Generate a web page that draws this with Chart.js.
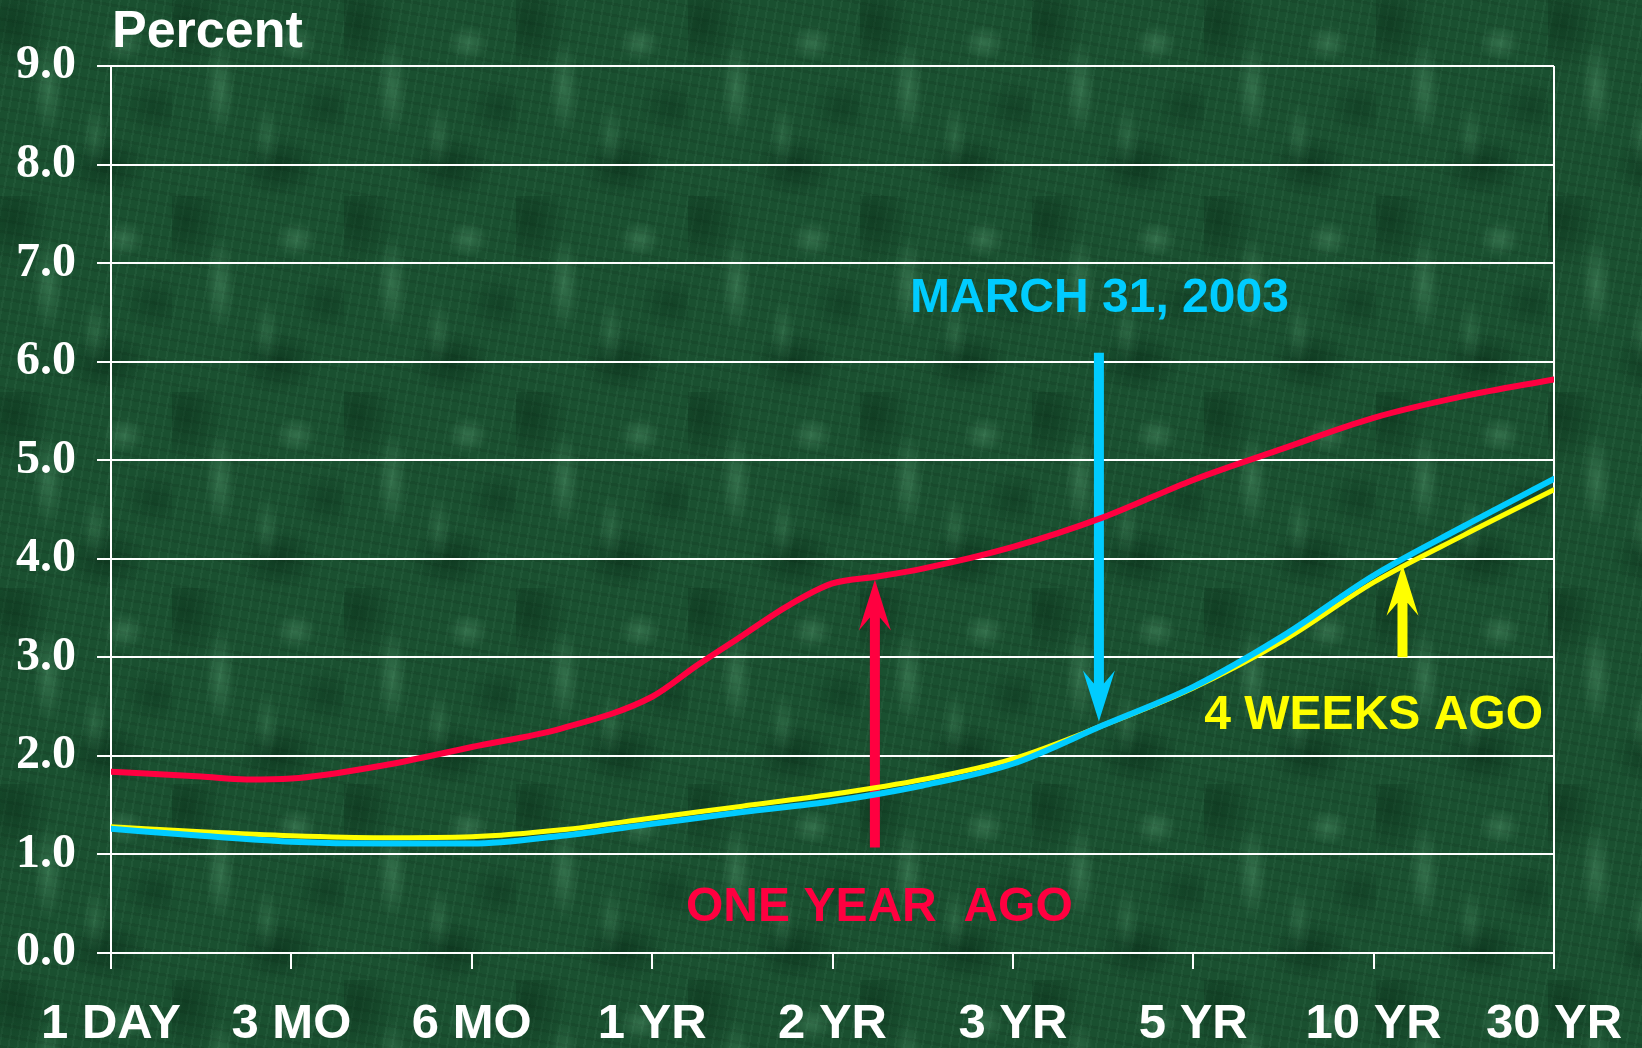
<!DOCTYPE html>
<html><head><meta charset="utf-8">
<script src="https://cdn.jsdelivr.net/npm/chart.js@4.4.1/dist/chart.umd.min.js"></script>
<style>
html,body{margin:0;padding:0;width:1642px;height:1048px;overflow:hidden}
body{
 background-color:#1a5030;
 background-image:
  radial-gradient(ellipse 22px 70px at 28% 45%, rgba(130,210,160,0.24), rgba(130,210,160,0) 70%),
  radial-gradient(ellipse 30px 26px at 72% 22%, rgba(140,220,170,0.22), rgba(140,220,170,0) 70%),
  radial-gradient(ellipse 18px 50px at 55% 70%, rgba(120,200,150,0.18), rgba(120,200,150,0) 70%),
  radial-gradient(ellipse 60px 45px at 62% 85%, rgba(4,36,18,0.5), rgba(4,36,18,0) 70%),
  radial-gradient(ellipse 55px 70px at 8% 12%, rgba(6,40,20,0.45), rgba(6,40,20,0) 70%),
  radial-gradient(ellipse 45px 40px at 90% 55%, rgba(8,45,24,0.4), rgba(8,45,24,0) 70%),
  repeating-linear-gradient(100deg, rgba(160,230,190,0.05) 0 2px, rgba(0,0,0,0) 2px 9px),
  repeating-linear-gradient(10deg, rgba(0,0,0,0.08) 0 3px, rgba(0,0,0,0) 3px 11px);
 background-size:172px 196px,172px 196px,172px 196px,172px 196px,172px 196px,172px 196px,auto,auto;
}
canvas{display:block}
</style></head>
<body>
<canvas id="c" width="1642" height="1048"></canvas>
<script>
// ---- data ----
const categories = ['1 DAY','3 MO','6 MO','1 YR','2 YR','3 YR','5 YR','10 YR','30 YR'];

const oneYearAgoPos = [0,0.5,0.75,1,1.5,2,2.5,3,3.25,3.5,3.75,4,4.25,4.5,5,5.5,6,6.5,7,7.5,8];
const oneYearAgoVal = [1.84,1.79,1.76,1.77,1.90,2.09,2.28,2.60,2.92,3.22,3.52,3.75,3.82,3.90,4.12,4.42,4.80,5.12,5.43,5.65,5.82];

const march31Pos = [0,0.5,1,1.5,2,2.5,3,3.5,4,4.5,5,5.5,6,6.5,7,7.5,8];
const march31Val = [1.26,1.19,1.13,1.11,1.11,1.19,1.31,1.43,1.54,1.70,1.92,2.31,2.70,3.22,3.83,4.33,4.81];

const fourWeeksPos = [0,0.5,1,1.5,2,2.5,3,3.5,4,4.5,5,5.5,6,6.5,7,7.5,8];
const fourWeeksVal = [1.28,1.23,1.19,1.17,1.18,1.25,1.37,1.49,1.61,1.76,1.97,2.31,2.69,3.17,3.76,4.24,4.70];

// annotation arrows: [x position (category units), tail value, tip value]
const arrowRed    = [4.235, 1.07, 3.79];
const arrowCyan   = [5.477, 6.09, 2.35];
const arrowYellow = [7.16, 3.00, 3.94];

// annotation labels: [text, x position, baseline value]
const labelRed    = ['ONE YEAR  AGO', 4.26, 0.32];
const labelCyan   = ['MARCH 31, 2003', 5.48, 6.50];
const labelYellow = ['4 WEEKS AGO', 7.0, 2.27];

const yAxisTitle = 'Percent';

const RED = '#FF0040', CYAN = '#00CCFF', YELLOW = '#FFFF00';
const SANS = '"Liberation Sans", Arial, sans-serif';
const SERIF = '"Liberation Serif", "Times New Roman", serif';

const pts = (p, v) => p.map((x, i) => ({x, y: v[i]}));

function drawArrow(ctx, x, yTail, yTip, color){
  const dir = yTip < yTail ? -1 : 1;
  const L = 51, N = 38, W = 16, S = 5;
  ctx.save();
  ctx.fillStyle = color;
  ctx.beginPath();
  ctx.moveTo(x - S, yTail);
  ctx.lineTo(x - S, yTip - dir * N);
  ctx.lineTo(x - W, yTip - dir * L);
  ctx.lineTo(x, yTip);
  ctx.lineTo(x + W, yTip - dir * L);
  ctx.lineTo(x + S, yTip - dir * N);
  ctx.lineTo(x + S, yTail);
  ctx.closePath();
  ctx.fill();
  ctx.restore();
}

const annotations = {
  id: 'annotations',
  beforeDatasetsDraw(chart){
    const {ctx, scales:{x, y}} = chart;
    [[arrowRed, RED], [arrowCyan, CYAN], [arrowYellow, YELLOW]].forEach(([a, c]) => {
      drawArrow(ctx, x.getPixelForValue(a[0]), y.getPixelForValue(a[1]), y.getPixelForValue(a[2]), c);
    });
  },
  afterDraw(chart){
    const {ctx, chartArea, scales:{x, y}} = chart;
    ctx.save();
    ctx.font = 'bold 48px ' + SANS;
    ctx.textAlign = 'center';
    ctx.textBaseline = 'alphabetic';
    [[labelRed, RED], [labelCyan, CYAN], [labelYellow, YELLOW]].forEach(([l, c]) => {
      ctx.fillStyle = c;
      ctx.fillText(l[0], x.getPixelForValue(l[1]), y.getPixelForValue(l[2]));
    });
    ctx.font = 'bold 52px ' + SANS;
    ctx.textAlign = 'left';
    ctx.fillStyle = '#FFFFFF';
    ctx.fillText(yAxisTitle, chartArea.left + 1, chartArea.top - 19);
    ctx.restore();
  }
};

new Chart(document.getElementById('c'), {
  type: 'line',
  data: {
    datasets: [
      {label: 'One year ago', data: pts(oneYearAgoPos, oneYearAgoVal), borderColor: RED, borderWidth: 6, order: 1},
      {label: 'March 31, 2003', data: pts(march31Pos, march31Val), borderColor: CYAN, borderWidth: 6, order: 2},
      {label: '4 weeks ago', data: pts(fourWeeksPos, fourWeeksVal), borderColor: YELLOW, borderWidth: 5, order: 3}
    ]
  },
  options: {
    responsive: false,
    animation: false,
    devicePixelRatio: 1,
    layout: {padding: {top: 66, right: 88, left: 0, bottom: 0}},
    elements: {
      point: {radius: 0},
      line: {cubicInterpolationMode: 'monotone', fill: false, borderCapStyle: 'round', borderJoinStyle: 'round'}
    },
    plugins: {legend: {display: false}, tooltip: {enabled: false}, title: {display: false}},
    scales: {
      x: {
        type: 'linear', min: 0, max: categories.length - 1,
        afterFit: s => { s.height = 95; s.paddingLeft = 0; s.paddingRight = 0; },
        ticks: {
          stepSize: 1, autoSkip: false, maxRotation: 0, padding: 26,
          color: '#FFFFFF', font: {family: SANS, weight: 'bold', size: 49},
          callback: v => categories[Math.round(v)] ?? ''
        },
        grid: {
          lineWidth: 2, tickLength: 16, tickColor: '#FFFFFF',
          color: c => (c.index === 0 || c.index === categories.length - 1) ? '#FFFFFF' : 'rgba(0,0,0,0)'
        },
        border: {display: true, color: '#FFFFFF', width: 2}
      },
      y: {
        min: 0, max: 9,
        afterFit: s => { s.width = 111; s.paddingTop = 0; s.paddingBottom = 0; },
        ticks: {
          stepSize: 1, padding: 21, color: '#FFFFFF',
          font: {family: SERIF, weight: 'bold', size: 48},
          callback: v => Number(v).toFixed(1)
        },
        grid: {lineWidth: 2, tickLength: 14, color: '#FFFFFF', tickColor: '#FFFFFF'},
        border: {display: true, color: '#FFFFFF', width: 2}
      }
    }
  },
  plugins: [annotations]
});
</script>
</body></html>
